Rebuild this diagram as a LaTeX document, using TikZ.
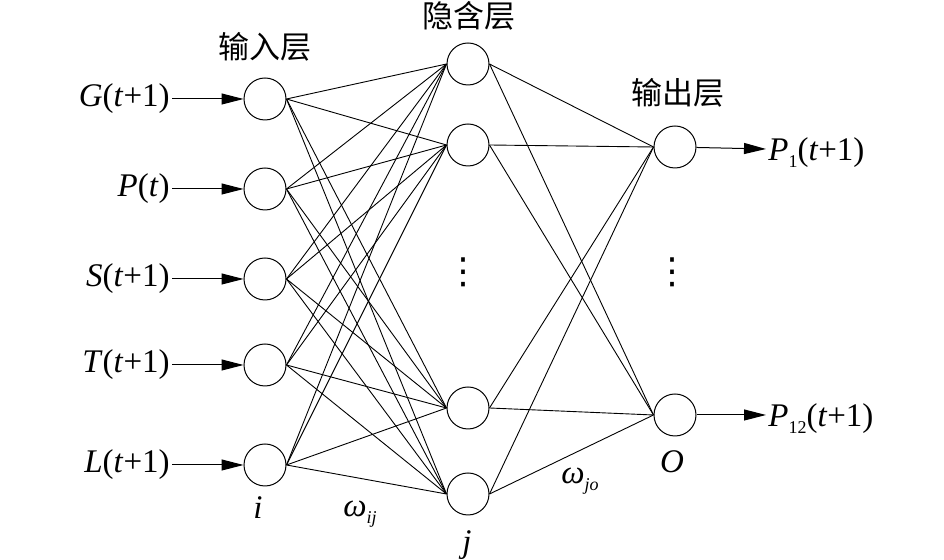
\documentclass[tikz,border=0pt]{standalone}
\usepackage{fontspec}
\setmainfont{Liberation Serif}
\newfontfamily\cjk{Noto Sans CJK SC}
\newfontfamily\sym{DejaVu Sans}
\usetikzlibrary{arrows.meta,positioning}

\newcommand{\sub}[1]{\raisebox{-0.45ex}{\fontsize{9}{9}\selectfont #1}}

\begin{document}
\begin{tikzpicture}[
 x=0.5pt,y=-0.5pt,
 every node/.style={font=\fontsize{16.5}{18}\selectfont},
 neuron/.style={draw=black,circle,minimum size=21pt,inner sep=0pt,line width=0.5pt},
 head/.style={font=\cjk\fontsize{15.5}{18}\selectfont},
 lab/.style={inner sep=1pt},
 link/.style={line width=0.45pt},
 arr/.style={-{Triangle[length=11pt,width=5.5pt]},line width=0.5pt}
]
 \useasboundingbox (0,0) rectangle (944,560);
 % input layer
 \node[neuron] (in1) at (265,99) {};
 \node[neuron] (in2) at (265,189) {};
 \node[neuron] (in3) at (265,279) {};
 \node[neuron] (in4) at (265,365) {};
 \node[neuron] (in5) at (265,465) {};
 % hidden layer
 \node[neuron] (hid1) at (468,64) {};
 \node[neuron] (hid2) at (468,145) {};
 \node[neuron] (hid3) at (468,408) {};
 \node[neuron] (hid4) at (468,494) {};
 % output layer
 \node[neuron] (out1) at (675,147) {};
 \node[neuron] (out2) at (675,415) {};
 % layer titles
 \node[head] (hin) at (265,47) {输入层};
 \node[head] (hhid) at (469,16) {隐含层};
 \node[head] (hout) at (678,93) {输出层};
 \node[inner sep=0pt,font=\sym\fontsize{18}{18}\selectfont] (vhid) at (463,272) {⋮};
 \node[inner sep=0pt,font=\sym\fontsize{18}{18}\selectfont] (vout) at (672,272) {⋮};
 % inputs
 \node[lab,anchor=east] (xG) at (172,99) {\textit{G}(\textit{t}+1)};
 \node[lab,anchor=east] (xP) at (172,189) {\textit{P}(\textit{t})};
 \node[lab,anchor=east] (xS) at (172,279) {\textit{S}(\textit{t}+1)};
 \node[lab,anchor=east] (xT) at (172,365) {\textit{T}(\textit{t}+1)};
 \node[lab,anchor=east] (xL) at (172,465) {\textit{L}(\textit{t}+1)};
 \draw[arr] (xG) -- (in1);
 \draw[arr] (xP) -- (in2);
 \draw[arr] (xS) -- (in3);
 \draw[arr] (xT) -- (in4);
 \draw[arr] (xL) -- (in5);
 % outputs
 \coordinate (y1) at (766,149);
 \coordinate (y2) at (766,415);
 \node[lab,anchor=west] (yP1) at ([yshift=-2pt]y1) {\textit{P}\sub{1}(\textit{t}+1)};
 \node[lab,anchor=west] (yP12) at ([yshift=-2pt]y2) {\textit{P}\sub{12}(\textit{t}+1)};
 \draw[arr] (out1) -- (y1);
 \draw[arr] (out2) -- (y2);
 % connections
 \foreach \i in {1,...,5}
  \foreach \j in {1,...,4}
   \draw[link] (in\i.east) -- (hid\j.west);
 \foreach \j in {1,...,4}
  \foreach \k in {1,2}
   \draw[link] (hid\j.east) -- (out\k.west);
 % indices
 \node (ni) at (258,508) {\textit{i}};
 \node (wij) at (360,514) {\textit{ω}\sub{\textit{ij}}};
 \node (nj) at (467,545) {\textit{j}};
 \node (wjo) at (580,481) {\textit{ω}\sub{\textit{jo}}};
 \node (no) at (672,462) {\textit{O}};
\end{tikzpicture}
\end{document}
